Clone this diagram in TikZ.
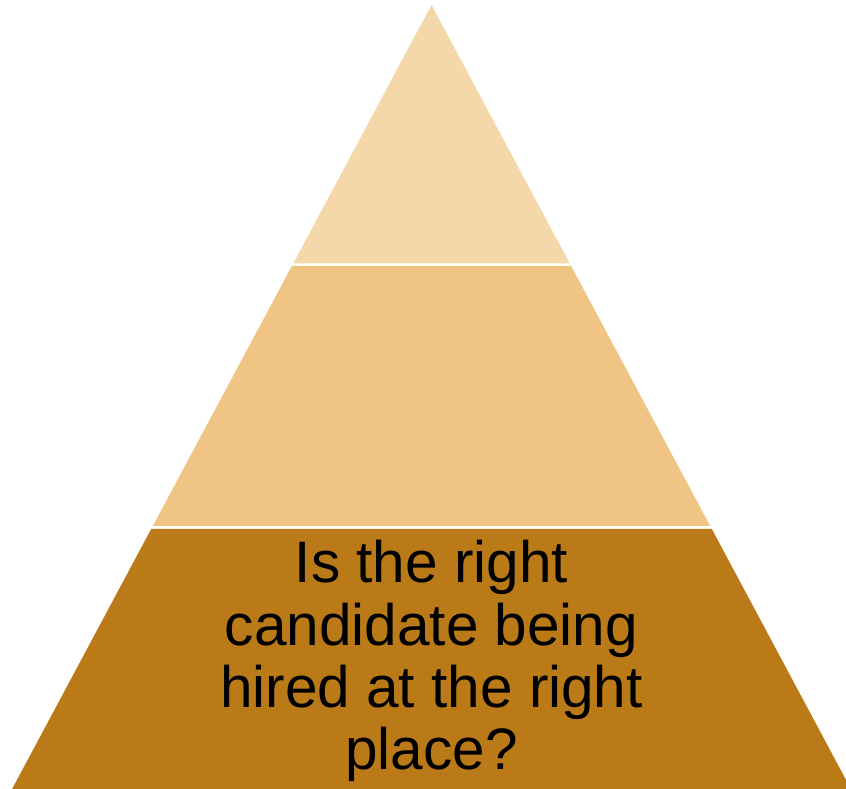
\documentclass[tikz,border=0pt]{standalone}
\usepackage{fontspec}
\setmainfont{Liberation Sans}
\definecolor{tiertop}{HTML}{F5D8A9}
\definecolor{tiermid}{HTML}{F0C483}
\definecolor{tierbot}{HTML}{B97A17}
\begin{document}
\begin{tikzpicture}[x=1pt,y=1pt,
  tierline/.style={draw=none},
  label/.style={anchor=base,inner sep=0pt,font=\fontsize{58.5}{62.3}\selectfont,text=black}]
\useasboundingbox (0,0) rectangle (846,789);
\clip (0,0) rectangle (846,789);
% top tier
\fill[tiertop] (431.5,784) -- (569.8,525.5) -- (293.2,525.5) -- cycle;
% middle tier
\fill[tiermid] (291.9,523) -- (571.1,523) -- (710.1,263.2) -- (152.9,263.2) -- cycle;
% bottom tier
\fill[tierbot] (151.2,260) -- (711.8,260) -- (850.9,0) -- (12.1,0) -- cycle;
% text
\node[label] (l1) at (431.5,206) {Is the right};
\node[label] (l2) at (431.5,143.7) {candidate being};
\node[label] (l3) at (431.5,81.4) {hired at the right};
\node[label] (l4) at (431.5,19.1) {place?};
\end{tikzpicture}
\end{document}
